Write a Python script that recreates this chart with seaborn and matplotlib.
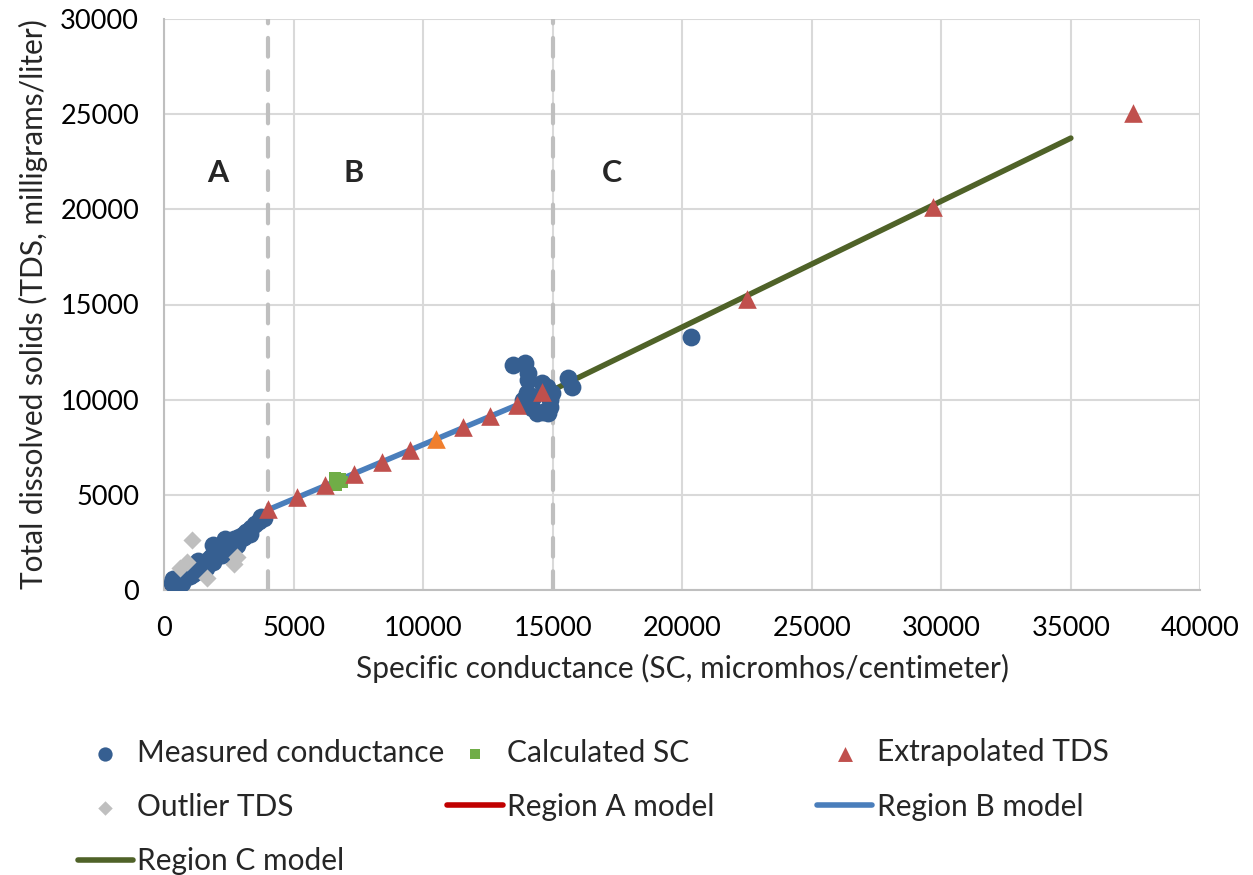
import seaborn as sns
import matplotlib.pyplot as plt

# measured conductance samples (SC, TDS)
meas_sc = [300, 350, 450, 550, 620, 700, 780, 850, 900, 980, 1050, 1100, 1180, 1250, 1300,
           1380, 1450, 1500, 1580, 1650, 1700, 1780, 1850, 1900, 1950, 2000, 2050, 2150, 2200,
           2300, 2400, 2450, 2500, 2600, 2700, 2800, 2900, 3000, 3050, 3150, 3250, 3350, 3500,
           3650, 3750, 3850, 1450, 2100, 2550, 3100,
           1300, 1600, 2350, 2250, 2800, 3300, 1000, 700, 1900,
           13460, 13930, 14040, 14040, 14000, 13850, 14200, 14390, 14620, 14820, 14890, 14890,
           14780, 14580, 14970, 14240, 15590, 15740, 20330]
meas_tds = [380, 560, 420, 480, 400, 620, 560, 700, 780, 720, 900, 830, 1000, 1080, 980,
            1200, 1300, 1150, 1400, 1500, 1350, 1650, 1750, 2350, 1800, 2000, 1750, 2100, 1900,
            2300, 2200, 2550, 2400, 2450, 2650, 2550, 2800, 2700, 2900, 3050, 3100, 3250, 3450,
            3600, 3800, 3750, 1000, 2300, 2250, 2750,
            1500, 1150, 2650, 1850, 2350, 2950, 1100, 350, 1450,
            11820, 11920, 11400, 11030, 10350, 9980, 9560, 9300, 9350, 9300, 9610, 9980,
            10660, 10870, 10350, 10140, 11130, 10660, 13290]

calc_sc = [6600, 6800, 6850, 6650]
calc_tds = [5900, 5850, 5650, 5500]

extrap_sc = [4010, 5130, 6210, 7330, 8410, 9490, 11540, 12580, 13620, 14580, 22490, 29670, 37380]
extrap_tds = [4250, 4880, 5510, 6090, 6720, 7350, 8560, 9140, 9720, 10400, 15280, 20120, 25050]

highlight_sc = [10490]
highlight_tds = [7930]

outlier_sc = [620, 890, 1080, 1660, 2700, 2820]
outlier_tds = [1150, 1470, 2630, 630, 1370, 1730]

regA_sc = [0, 4000]
regA_tds = [0, 3850]
regB_sc = [4000, 15000]
regB_tds = [4200, 10500]
regC_sc = [15000, 35000]
regC_tds = [10500, 23750]

boundaries = [4000, 15000]
region_labels = ["A", "B", "C"]
region_label_x = [2050, 7330, 17280]

sns.set_theme(style="white")
plt.rcParams["font.family"] = ["Lato", "DejaVu Sans"]

fig, ax = plt.subplots(figsize=(12.53, 8.75), dpi=100)
fig.subplots_adjust(left=0.131, right=0.958, top=0.978, bottom=0.326)

# model lines first, points on top
sns.lineplot(x=regA_sc, y=regA_tds, color="#C00000", lw=4, ax=ax, label="Region A model", zorder=2)
sns.lineplot(x=regB_sc, y=regB_tds, color="#4A7EBB", lw=4, ax=ax, label="Region B model", zorder=2)
sns.lineplot(x=regC_sc, y=regC_tds, color="#4F6228", lw=4, ax=ax, label="Region C model", zorder=2)

sns.scatterplot(x=meas_sc, y=meas_tds, marker="o", color="#365F91", s=165, linewidth=0,
                ax=ax, label="Measured conductance", zorder=3)
sns.scatterplot(x=calc_sc, y=calc_tds, marker="s", color="#70AD47", s=85, linewidth=0,
                ax=ax, label="Calculated SC", zorder=4)
sns.scatterplot(x=extrap_sc, y=extrap_tds, marker="^", color="#C0504D", s=180, linewidth=0,
                ax=ax, label="Extrapolated TDS", zorder=5)
sns.scatterplot(x=highlight_sc, y=highlight_tds, marker="^", color="#F07F2E", s=180, linewidth=0,
                ax=ax, zorder=5)
sns.scatterplot(x=outlier_sc, y=outlier_tds, marker="D", color="#BFBFBF", s=85, linewidth=0,
                ax=ax, label="Outlier TDS", zorder=6)

for b in boundaries:
    ax.axvline(b, color="#BFBFBF", lw=3, dashes=(4.5, 3.5), dash_capstyle="round", zorder=1)

for lab, x in zip(region_labels, region_label_x):
    ax.text(x, 21900, lab, fontsize=22, fontweight="bold", ha="center", va="center")

ax.set_xlim(0, 40000)
ax.set_ylim(0, 30000)
ax.set_xticks(range(0, 40001, 5000))
ax.set_yticks(range(0, 30001, 5000))
ax.grid(True, color="#D9D9D9", lw=1.5)
ax.set_axisbelow(True)
for side in ["top", "right"]:
    ax.spines[side].set_visible(False)
for side in ["left", "bottom"]:
    ax.spines[side].set_color("#BFBFBF")
    ax.spines[side].set_linewidth(1.5)
ax.tick_params(axis="both", length=0, labelsize=19.5, colors="black")
ax.tick_params(axis="x", pad=19)
ax.tick_params(axis="y", pad=18)

ax.set_xlabel("Specific conductance (SC, micromhos/centimeter)", fontsize=21.5, labelpad=9)
ax.set_ylabel("Total dissolved solids (TDS, milligrams/liter)", fontsize=21.5, labelpad=9)

handles, labels = ax.get_legend_handles_labels()
ax.get_legend().remove()
lookup = dict(zip(labels, handles))
columns = [["Measured conductance", "Outlier TDS", "Region C model"],
           ["Calculated SC", "Region A model"],
           ["Extrapolated TDS", "Region B model"]]
col_x = [0.062, 0.357, 0.652]
for names, x in zip(columns, col_x):
    fig.legend([lookup[n] for n in names], names, loc="upper left",
               bbox_to_anchor=(x, 0.156), frameon=False, fontsize=21.5,
               borderpad=0, borderaxespad=0, handlelength=1.85, handletextpad=0.15,
               labelspacing=0.88, markerscale=0.8)

fig.savefig("out.png", dpi=100)
